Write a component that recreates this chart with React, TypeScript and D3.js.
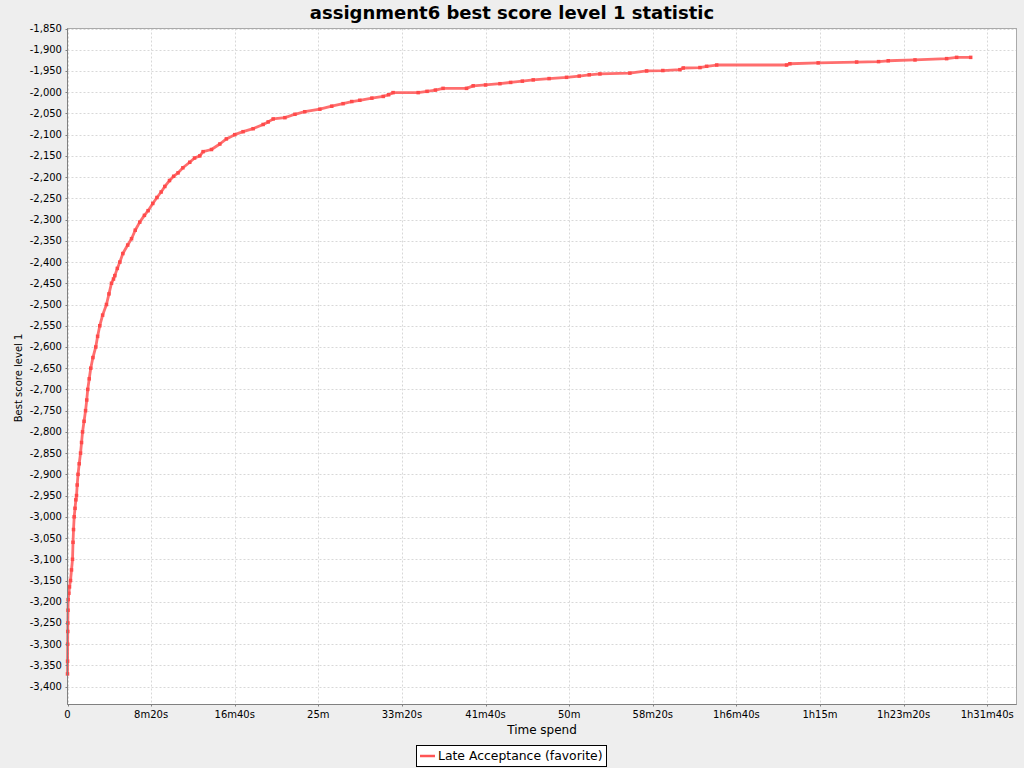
import React from "react";
import * as d3 from "d3";

const TITLE = "assignment6 best score level 1 statistic";
const X_LABEL = "Time spend";
const Y_LABEL = "Best score level 1";
const SERIES_NAME = "Late Acceptance (favorite)";

// time spent (seconds)
const times: number[] = [
  0, 0.5, 1, 1.5, 2, 3, 4, 8, 12, 18, 24, 30, 33, 36, 40, 45, 50, 54, 58, 63, 70, 78, 84, 90, 99, 108,
  115, 121, 130, 139, 152, 169, 180, 193, 210, 233, 248, 263, 275, 283, 298, 313, 331, 360, 383, 405,
  432, 460, 482, 510, 535, 560, 582, 610, 635, 661, 690, 731, 760, 791, 811, 861, 911, 950, 1000, 1050,
  1110, 1170, 1200, 1230, 1300, 1360, 1419, 1509, 1580, 1648, 1700, 1748, 1820, 1888, 1920, 1947, 2097,
  2150, 2200, 2246, 2386, 2426, 2500, 2586, 2650, 2720, 2785, 2880, 2984, 3060, 3120, 3184, 3363, 3463,
  3560, 3662, 3682, 3782, 3822, 3882, 4300, 4320, 4489, 4719, 4850, 4908, 5068, 5257, 5317, 5401,
];
// best score level 1
const scores: number[] = [
  -3370, -3340, -3300, -3270, -3250, -3220, -3195, -3180, -3165, -3150, -3125, -3100, -3060, -3030, -3000,
  -2980, -2960, -2950, -2925, -2900, -2875, -2850, -2825, -2800, -2775, -2750, -2725, -2700, -2675, -2650,
  -2625, -2600, -2575, -2550, -2525, -2500, -2475, -2450, -2440, -2432, -2415, -2400, -2380, -2360, -2345,
  -2325, -2306, -2290, -2279, -2262, -2248, -2235, -2222, -2208, -2198, -2190, -2178, -2165, -2155, -2150,
  -2140, -2135, -2122, -2110, -2100, -2093, -2086, -2076, -2070, -2063, -2060, -2052, -2046, -2040, -2033,
  -2027, -2022, -2019, -2014, -2010, -2006, -2001, -2001, -1998, -1995, -1991, -1991, -1985, -1983, -1980,
  -1977, -1974, -1971, -1968, -1965, -1962, -1959, -1957, -1955, -1950, -1949, -1947, -1943, -1942, -1939,
  -1936, -1936, -1933, -1931, -1929, -1928, -1926, -1924, -1921, -1918, -1918,
];

const xTicks: number[] = [0, 500, 1000, 1500, 2000, 2500, 3000, 3500, 4000, 4500, 5000, 5500];
const yTicks: number[] = d3.range(-1850, -3401, -50);

const W = 1024;
const H = 768;
const M = { left: 67.5, right: 1016.5, top: 28.5, bottom: 704.5 };
const COLOR = "#ff5555";
const FONT = "'DejaVu Sans', sans-serif";

function fmtTime(s: number): string {
  if (s === 0) return "0";
  const h = Math.floor(s / 3600);
  const m = Math.floor((s % 3600) / 60);
  const sec = Math.round(s % 60);
  let out = "";
  if (h) out += h + "h";
  if (m) out += m + "m";
  if (sec) out += sec + "s";
  return out;
}

export default function App() {
  const x = d3.scaleLinear().domain([0, 5675]).range([M.left, M.right]);
  const y = d3.scaleLinear().domain([-3442, -1850]).range([M.bottom, M.top]);
  const data = times.map((t, i) => [t, scores[i]] as [number, number]);
  const line = d3
    .line<[number, number]>()
    .x((d) => x(d[0]))
    .y((d) => y(d[1]));
  const fmtY = d3.format(",");

  return (
    <svg
      width={W}
      height={H}
      style={{ position: "absolute", left: 0, top: 0, display: "block", background: "#eeeeee" }}
      fontFamily={FONT}
    >
      <rect x={0} y={0} width={W} height={H} fill="#eeeeee" />
      <text x={512} y={19} textAnchor="middle" fontSize={18} fontWeight="bold" fill="#000">
        {TITLE}
      </text>
      <rect x={M.left} y={M.top} width={M.right - M.left} height={M.bottom - M.top} fill="#fff" />
      {/* grid */}
      {yTicks.map((v) => (
        <line
          key={"gy" + v}
          x1={M.left}
          x2={M.right}
          y1={Math.round(y(v)) + 0.5}
          y2={Math.round(y(v)) + 0.5}
          stroke="#d8d8d8"
          strokeDasharray="2,2"
        />
      ))}
      {xTicks.map((v) => (
        <line
          key={"gx" + v}
          x1={Math.round(x(v)) + 0.5}
          x2={Math.round(x(v)) + 0.5}
          y1={M.top}
          y2={M.bottom}
          stroke="#d8d8d8"
          strokeDasharray="2,2"
        />
      ))}
      {/* outline */}
      <rect
        x={M.left}
        y={M.top}
        width={M.right - M.left}
        height={M.bottom - M.top}
        fill="none"
        stroke="#aaaaaa"
      />
      {/* series */}
      <path
        d={line(data) || ""}
        fill="none"
        stroke={COLOR}
        strokeWidth={2.8}
        strokeOpacity={0.85}
        strokeLinejoin="round"
      />
      {data.map((d, i) => (
        <rect key={"m" + i} x={x(d[0]) - 1.75} y={y(d[1]) - 1.75} width={3.5} height={3.5} fill="#ff4a4a" />
      ))}
      {/* axes */}
      <line x1={M.left} x2={M.left} y1={M.top} y2={M.bottom} stroke="#808080" />
      <line x1={M.left} x2={M.right} y1={M.bottom} y2={M.bottom} stroke="#808080" />
      {yTicks.map((v) => (
        <g key={"ty" + v}>
          <line
            x1={M.left - 2}
            x2={M.left}
            y1={Math.round(y(v)) + 0.5}
            y2={Math.round(y(v)) + 0.5}
            stroke="#808080"
          />
          <text x={62} y={y(v)} dy="0.35em" textAnchor="end" fontSize={10} fill="#000">
            {fmtY(v).replace("−", "-")}
          </text>
        </g>
      ))}
      {xTicks.map((v) => (
        <g key={"tx" + v}>
          <line
            x1={Math.round(x(v)) + 0.5}
            x2={Math.round(x(v)) + 0.5}
            y1={M.bottom}
            y2={M.bottom + 2}
            stroke="#808080"
          />
          <text x={x(v)} y={718} textAnchor="middle" fontSize={10} fill="#000">
            {fmtTime(v)}
          </text>
        </g>
      ))}
      <text x={(M.left + M.right) / 2} y={734} textAnchor="middle" fontSize={12} fill="#000">
        {X_LABEL}
      </text>
      <text
        transform={`translate(21.5,378) rotate(-90)`}
        textAnchor="middle"
        fontSize={10}
        fill="#000"
      >
        {Y_LABEL}
      </text>
      {/* legend */}
      <rect x={416.5} y={745.5} width={190} height={21} fill="#fff" stroke="#000" />
      <line x1={420} x2={435} y1={756} y2={756} stroke={COLOR} strokeWidth={2.5} />
      <text x={438} y={760} fontSize={12.4} fill="#000">
        {SERIES_NAME}
      </text>
    </svg>
  );
}
